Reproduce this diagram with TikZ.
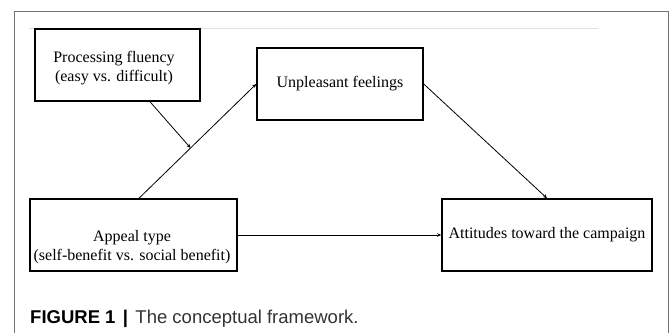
\documentclass[tikz,border=0pt]{standalone}
\usepackage{fontspec}
\setmainfont{Liberation Serif}
\newfontfamily\capfont{Liberation Sans}
\usetikzlibrary{arrows.meta,calc}
\begin{document}
\begin{tikzpicture}[x=1pt,y=-1pt,
  box/.style={draw=black,line width=1.5pt,inner sep=0pt,font=\fontsize{16}{19}\selectfont,align=center},
  txt/.style={inner sep=0pt,font=\fontsize{16}{19}\selectfont,align=center},
  conn/.style={line width=0.8pt,-{Stealth[length=4pt,width=3.5pt]}}]
\useasboundingbox (0,0) rectangle (670,333);
\draw[line width=1pt,color=black!55] (14,333) -- (14,11) -- (668,11) -- (668,333);
\draw[line width=0.8pt,color=black!12] (29,28) -- (598,28);
\node[box,minimum width=165pt,minimum height=72pt] (pf) at (117.5,65) {};
\node[txt] (pft) at (114,68) {Processing fluency\\(easy vs. difficult)};
\node[box,minimum width=166pt,minimum height=72pt] (unp) at (340,84) {Unpleasant feelings};
\node[box,minimum width=207pt,minimum height=72pt] (app) at (133.5,235) {};
\node[txt] (appt) at (132,247) {Appeal type\\(self-benefit vs. social benefit)};
\node[box,minimum width=210pt,minimum height=72pt] (att) at (547,235) {Attitudes toward the campaign};
\coordinate (s1) at ([xshift=5.5pt]app.north);
\draw[conn] (s1) -- (unp.west);
\coordinate (mid) at ($(s1)!0.44!(unp.west)$);
\draw[conn] ([xshift=32.5pt]pf.south) -- (mid);
\draw[conn] (unp.east) -- (att.north);
\draw[conn] (app.east) -- (att.west);
\node[anchor=base west,inner sep=0pt,font=\capfont\fontsize{18.5}{20}\selectfont] (cap) at (30,323) {\textbf{FIGURE 1}\hspace{0.4em}\textbf{|}\hspace{0.4em}\color{black!80}The conceptual framework.};
\end{tikzpicture}
\end{document}
